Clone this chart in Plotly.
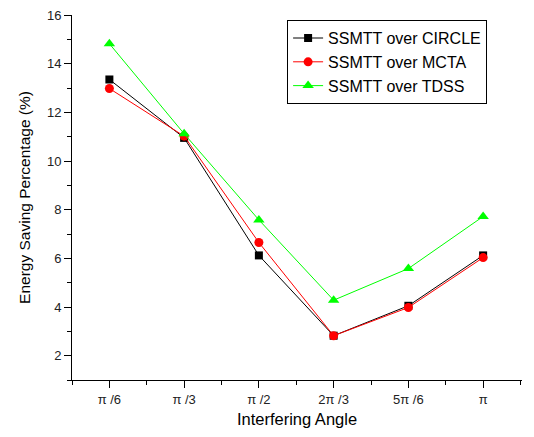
import plotly.graph_objects as go

categories = ["π /6", "π /3", "π /2", "2π /3", "5π /6", "π"]
circle = [13.35, 10.95, 6.12, 2.82, 4.05, 6.12]
mcta = [12.98, 11.02, 6.65, 2.82, 3.98, 6.03]
tdss = [14.82, 11.12, 7.58, 4.28, 5.58, 7.72]
y_ticks = [2, 4, 6, 8, 10, 12, 14, 16]

x = [i + 1 for i in range(len(categories))]

fig = go.Figure()
fig.add_trace(go.Scatter(x=x, y=circle, mode="lines+markers", name="SSMTT over CIRCLE",
                         line=dict(color="black", width=1),
                         marker=dict(symbol="square", size=8, color="black")))
fig.add_trace(go.Scatter(x=x, y=mcta, mode="lines+markers", name="SSMTT over MCTA",
                         line=dict(color="#ff0000", width=1),
                         marker=dict(symbol="circle", size=9, color="#ff0000")))
fig.add_trace(go.Scatter(x=x, y=tdss, mode="lines+markers", name="SSMTT over TDSS",
                         line=dict(color="#00ff00", width=1),
                         marker=dict(symbol="triangle-up", size=10, color="#00ff00")))

fig.update_layout(
    width=534, height=437,
    margin=dict(l=72, r=12, t=15, b=57, autoexpand=False),
    plot_bgcolor="white", paper_bgcolor="white",
    font=dict(family="Liberation Sans, Arial", color="black"),
    showlegend=True,
    legend=dict(x=0.478, y=0.986, xanchor="left", yanchor="top",
                bordercolor="black", borderwidth=1, bgcolor="white",
                font=dict(size=16), tracegroupgap=0, itemwidth=30,
                entrywidth=168, entrywidthmode="pixels"),
    xaxis=dict(range=[0.5, 6.52], tickmode="array", tickvals=x, ticktext=categories,
               automargin=False,
               showline=True, linecolor="black", linewidth=1, mirror=False,
               ticks="outside", ticklen=7, tickcolor="black", showgrid=False, zeroline=False,
               tickfont=dict(size=13, color="#222"),
               minor=dict(tickmode="array", tickvals=[v - 0.5 for v in x] + [x[-1] + 0.5],
                          ticks="outside", ticklen=4, tickcolor="black"),
               title=dict(text="Interfering Angle", font=dict(size=16.5), standoff=7)),
    yaxis=dict(range=[1, 16], tickmode="array", tickvals=y_ticks,
               automargin=False,
               showline=True, linecolor="black", linewidth=1, mirror=False,
               ticks="outside", ticklen=7, tickcolor="black", showgrid=False, zeroline=False,
               tickfont=dict(size=13, color="#222"),
               minor=dict(tickmode="array", tickvals=[v - 1 for v in y_ticks] + [16],
                          ticks="outside", ticklen=4, tickcolor="black"),
               title=dict(text="Energy Saving Percentage (%)", font=dict(size=15.5), standoff=12)),
)

fig.write_html("out.html", config={"displayModeBar": False},
               post_script="document.body.style.margin='0';")
